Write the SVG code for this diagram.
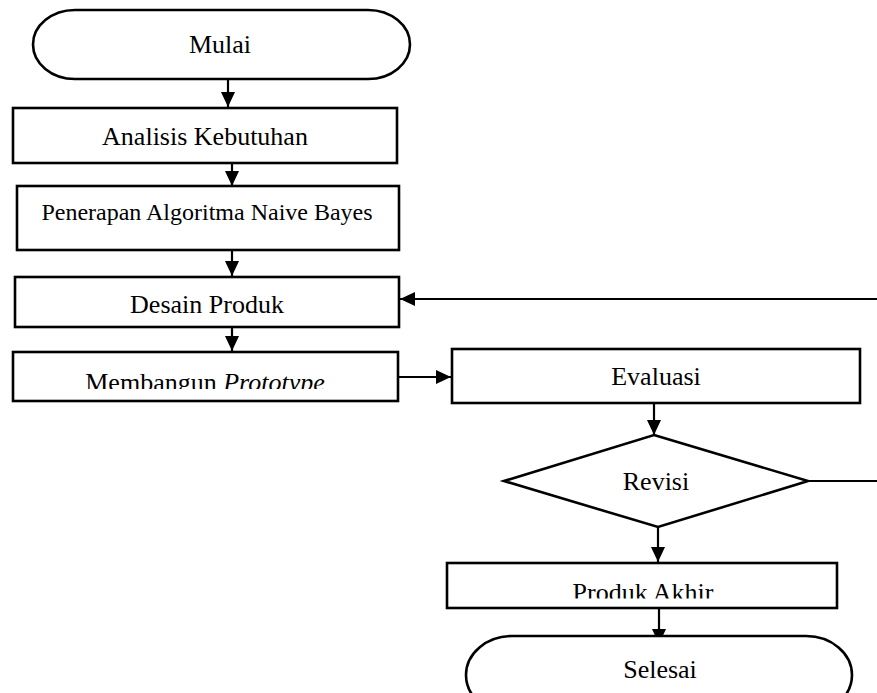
<svg xmlns="http://www.w3.org/2000/svg" width="877" height="693" viewBox="0 0 877 693">
<style>
.n{fill:#fff;stroke:#000;stroke-width:2.6}
.t{font-family:"Liberation Serif","Times New Roman",serif;font-size:26px;fill:#000;text-anchor:middle}
.c{fill:none;stroke:#000;stroke-width:2.2}
</style>
<defs>
<marker id="ah" markerUnits="userSpaceOnUse" markerWidth="16" markerHeight="16" viewBox="0 0 16 16" refX="15" refY="8" orient="auto">
<path d="M0,1 L15,8 L0,15 Z" fill="#000"/>
</marker>
<clipPath id="cpM"><rect x="0" y="340" width="440" height="49"/></clipPath>
<clipPath id="cpP"><rect x="440" y="560" width="437" height="38.5"/></clipPath>
</defs>
<g id="connectors">
<line class="c" x1="228" y1="79" x2="228" y2="107" marker-end="url(#ah)"/>
<line class="c" x1="232" y1="163" x2="232" y2="186" marker-end="url(#ah)"/>
<line class="c" x1="232" y1="250" x2="232" y2="276" marker-end="url(#ah)"/>
<line class="c" x1="232" y1="327" x2="232" y2="351" marker-end="url(#ah)"/>
<line class="c" x1="398" y1="377" x2="451" y2="377" marker-end="url(#ah)"/>
<line class="c" x1="654" y1="403" x2="654" y2="435" marker-end="url(#ah)"/>
<line class="c" x1="658" y1="527" x2="658" y2="562" marker-end="url(#ah)"/>
<line class="c" x1="659" y1="608" x2="659" y2="644" marker-end="url(#ah)"/>
<line class="c" x1="808" y1="481" x2="877" y2="481"/>
<line class="c" x1="877" y1="299" x2="400" y2="299" marker-end="url(#ah)"/>
</g>
<g id="mulai">
<path class="n" d="M75,10 L368,10 A42,34.5 0 0 1 368,79 L75,79 A42,34.5 0 0 1 75,10 Z"/>
<text class="t" x="220" y="53">Mulai</text>
</g>
<g id="analisis">
<rect class="n" x="13" y="108" width="384" height="55"/>
<text class="t" x="205" y="145">Analisis Kebutuhan</text>
</g>
<g id="penerapan">
<rect class="n" x="17" y="186" width="382" height="64"/>
<text class="t" x="207" y="220" style="font-size:24px">Penerapan Algoritma Naive Bayes</text>
</g>
<g id="desain">
<rect class="n" x="15" y="277" width="384" height="50"/>
<text class="t" x="207" y="313">Desain Produk</text>
</g>
<g id="membangun">
<rect class="n" x="13" y="352" width="385" height="49"/>
<text class="t" x="205" y="391" clip-path="url(#cpM)">Membangun <tspan font-style="italic">Prototype</tspan></text>
</g>
<g id="evaluasi">
<rect class="n" x="452" y="349" width="408" height="54"/>
<text class="t" x="656" y="385">Evaluasi</text>
</g>
<g id="revisi">
<polygon class="n" points="654,435 808,481 658,527 504,481"/>
<text class="t" x="656" y="490">Revisi</text>
</g>
<g id="produk-akhir">
<rect class="n" x="447" y="563" width="390" height="45"/>
<text class="t" x="643" y="601" clip-path="url(#cpP)">Produk Akhir</text>
</g>
<g id="selesai">
<path class="n" d="M512,636 L806,636 A46,39 0 0 1 806,714 L512,714 A46,39 0 0 1 512,636 Z"/>
<text class="t" x="660" y="678">Selesai</text>
</g>
</svg>
